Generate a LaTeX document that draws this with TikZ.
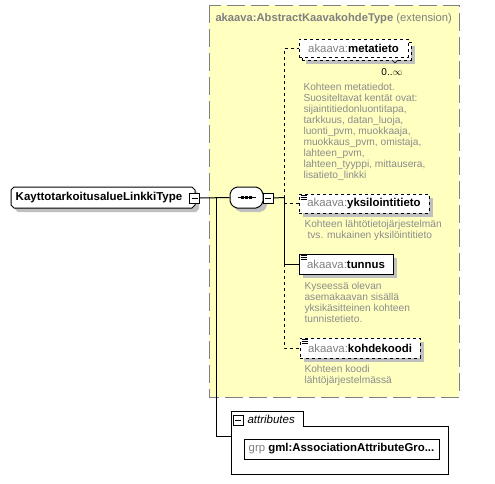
\documentclass[tikz,border=0pt]{standalone}
\usepackage{fontspec}
\setmainfont{Liberation Sans}
\usetikzlibrary{shadows}

\definecolor{extfill}{RGB}{255,255,192}
\definecolor{extline}{RGB}{128,128,128}
\definecolor{shadegray}{RGB}{192,192,192}
\definecolor{prefixgray}{RGB}{128,128,128}
\definecolor{notegray}{RGB}{140,140,140}

\newcommand{\akaava}{\textcolor{prefixgray}{akaava:}}

\begin{document}
\begin{tikzpicture}[x=1pt, y=-1pt, line width=1pt,
	boxshadow/.style={drop shadow={shadow xshift=4pt, shadow yshift=-4pt, fill=shadegray, opacity=1}},
	elem/.style={draw, fill=white, boxshadow, inner sep=0, minimum height=20pt, font=\fontsize{11.4}{13}\selectfont},
	optelem/.style={elem, dashed},
	minusbox/.style={draw, fill=white, inner sep=0, minimum size=10pt, line width=0.8pt,
		path picture={\draw ([xshift=2pt]path picture bounding box.west) -- ([xshift=-2pt]path picture bounding box.east);}},
	note/.style={anchor=north west, align=left, inner sep=0, text=notegray, font=\fontsize{10.2}{11}\selectfont}]

	\useasboundingbox (0,0) rectangle (495,483);

% extension %{{{2

	\draw[extline, fill=extfill, dash pattern=on 18pt off 6pt] (209,5) rectangle (459,397);
	\node[anchor=west, inner sep=0, text=prefixgray, font=\fontsize{11.2}{13}\selectfont] (exttitle)
		at (215,19) {\textbf{akaava:AbstractKaavakohdeType} (extension)};

% coordinates %{{{2

	\coordinate (linkjoin) at (216,197.5);
	\coordinate (seqjoin) at (284,197.5);
	\coordinate (attrin) at (231,436);

% type and sequence %{{{2

	% cut corners
	\draw[fill=white, boxshadow] (14,187) -- (192,187) -- (195,190) -- (195,205) -- (192,208)
		-- (14,208) -- (11,205) -- (11,190) -- cycle;
	\node[inner sep=0, font=\bfseries\fontsize{11.5}{13}\selectfont] (linktype) at (99,197.5) {KayttotarkoitusalueLinkkiType};

	\draw[fill=white, boxshadow, rounded corners=2pt] (235,187) -- (258,187) -- (263,192) -- (263,203)
		-- (258,208) -- (235,208) -- (230,203) -- (230,192) -- cycle;
	\node[inner sep=0, minimum width=33pt, minimum height=21pt] (seq) at (246.5,197.5) {};

	% sequence symbol
	\draw (seq.center) +(-9,0) -- +(9,0);
	\foreach \k in {-4,0,4}
		\fill ([xshift=\k pt]seq.center) +(-1.5,-1.5) rectangle +(1.5,1.5);

	\node[minusbox] (linkminus) at (194.5,198) {};
	\node[minusbox] (seqminus) at (268,198) {};

% elements %{{{2

	% stacked box, 0..n
	\node[optelem, minimum width=109pt, minimum height=18pt] (metaback) at (356.5,51) {};
	\node[draw, dashed, fill=white, inner sep=0, minimum width=109pt, minimum height=18pt,
		font=\fontsize{11.4}{13}\selectfont] (meta) at (353.5,48) {\akaava\textbf{metatieto}};
	\draw[line width=0.6pt, fill=shadegray] (392,60) -- (395,63) -- (398,60);
	\node[inner sep=0, font=\fontsize{10}{12}\selectfont] (metaocc) at (392,72) {0..$\infty$};

	\node[optelem, minimum width=130pt, minimum height=19pt] (yksi) at (364,203.5) {\akaava\textbf{yksilointitieto}};
	\node[elem, minimum width=94pt] (tunnus) at (346,264) {\akaava\textbf{tunnus}};
	\node[optelem, minimum width=120pt] (kohde) at (360,348) {\akaava\textbf{kohdekoodi}};

	% simple content marks
	\foreach \el in {yksi,tunnus,kohde}
		\foreach \k in {0,1.7,3.4}
			\draw[line width=0.6pt] ([shift={(2,2+\k)}]\el.north west) -- ++(6,0);

% notes %{{{2

	\node[note] (metanote) at (303,83) {Kohteen metatiedot.\\
		Suositeltavat kentät ovat:\\
		sijaintitiedonluontitapa,\\
		tarkkuus, datan\_luoja,\\
		luonti\_pvm, muokkaaja,\\
		muokkaus\_pvm, omistaja,\\
		lahteen\_pvm,\\
		lahteen\_tyyppi, mittausera,\\
		lisatieto\_linkki};

	\node[note] (yksinote) at (304,220) {Kohteen lähtötietojärjestelmän\\
		\hspace{3pt}tvs. mukainen yksilöintitieto};

	\node[note] (tunnusnote) at (304,282) {Kyseessä olevan\\
		asemakaavan sisällä\\
		yksikäsitteinen kohteen\\
		tunnistetieto.};

	\node[note] (kohdenote) at (304,365) {Kohteen koodi\\
		lähtöjärjestelmässä};

% attributes %{{{2

	\draw[fill=white] (231,411) -- (303,411) -- (303,426) -- (448,426) -- (448,474) -- (231,474) -- cycle;
	\node[minusbox] (attrminus) at (238,420) {};
	\node[anchor=west, inner sep=0, font=\itshape\fontsize{11.5}{13}\selectfont] (attrlabel) at (247,419) {attributes};

	\node[draw, fill=white, inner sep=0, minimum width=195pt, minimum height=20pt, font=\fontsize{11.4}{13}\selectfont]
		(grp) at (341.5,449) {\textcolor{prefixgray}{grp}\ \textbf{gml:AssociationAttributeGro...}};

% connectors %{{{2

	\draw (linkminus.east) -- (seq.west);
	\draw (linkjoin) |- (attrin);
	\draw (seqminus.east) -- (seqjoin);

	\draw[dashed] (seqjoin) |- (meta.west);
	\draw[dashed] (seqjoin) |- (yksi.west);
	\draw (seqjoin) |- (tunnus.west);
	\draw[dashed] (tunnus.west -| seqjoin) |- (kohde.west);

% closing %{{{2

\end{tikzpicture}
\end{document}
